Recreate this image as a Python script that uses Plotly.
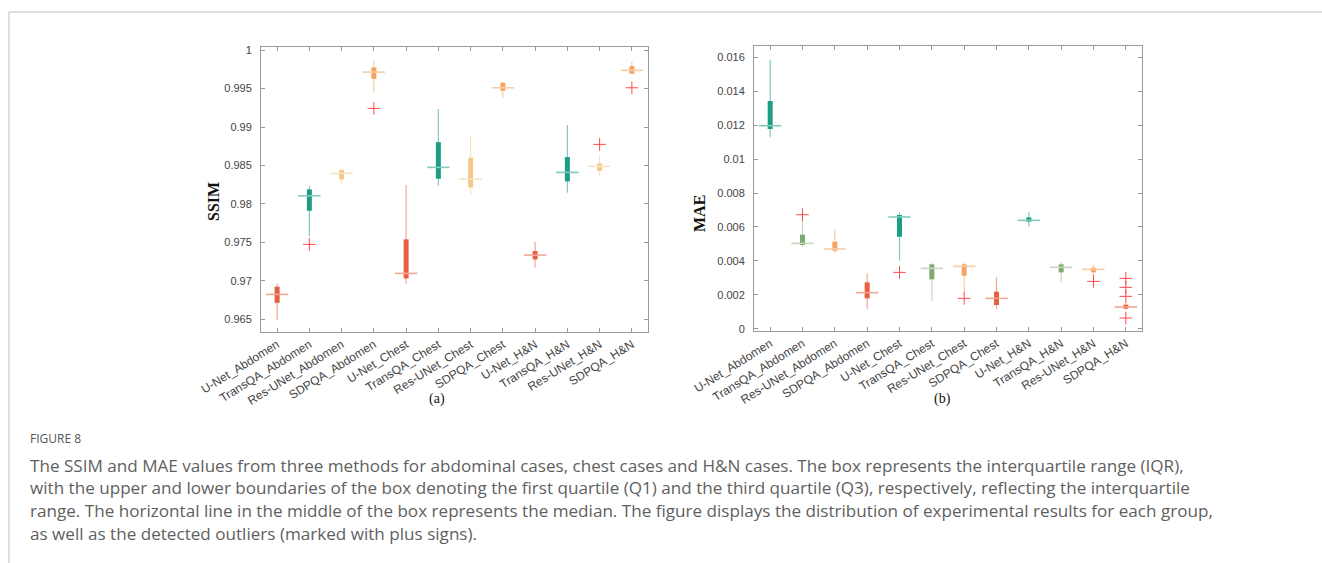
import plotly.graph_objects as go

categories = ["U-Net_Abdomen", "TransQA_Abdomen", "Res-UNet_Abdomen", "SDPQA_Abdomen",
              "U-Net_Chest", "TransQA_Chest", "Res-UNet_Chest", "SDPQA_Chest",
              "U-Net_H&N", "TransQA_H&N", "Res-UNet_H&N", "SDPQA_H&N"]

# SSIM (panel a)
ssim_lo  = [0.9649, 0.97582, 0.98258, 0.9945, 0.96967, 0.98236, 0.98124, 0.99385, 0.97175, 0.98145, 0.98353, 0.99692]
ssim_q1  = [0.96715, 0.97911, 0.98319, 0.99627, 0.97032, 0.98327, 0.98215, 0.99471, 0.97279, 0.98293, 0.98431, 0.99692]
ssim_med = [0.96824, 0.98106, 0.98397, 0.99714, 0.97097, 0.98475, 0.98323, 0.9951, 0.97335, 0.9841, 0.98488, 0.99736]
ssim_q3  = [0.96924, 0.98189, 0.9844, 0.99775, 0.97539, 0.98804, 0.9860, 0.99575, 0.97387, 0.98609, 0.98527, 0.99792]
ssim_hi  = [0.96967, 0.98236, 0.98453, 0.99861, 0.98245, 0.99233, 0.98882, 0.99584, 0.97508, 0.99025, 0.98635, 0.99844]
ssim_out = [[], [0.97474], [], [0.99242], [], [], [], [], [], [], [0.98774], [0.9951]]
ssim_style = ["red", "teal", "sand", "orange"] * 3

# MAE (panel b)
mae_lo  = [0.011283, 0.004835, 0.0045, 0.001179, 0.00401, 0.001631, 0.002084, 0.00114, 0.006015, 0.002713, 0.003066, 0.00114]
mae_q1  = [0.011774, 0.004934, 0.0046, 0.001789, 0.005425, 0.002909, 0.003125, 0.001396, 0.00631, 0.003322, 0.003322, 0.001179]
mae_med = [0.01197, 0.005032, 0.0047, 0.002123, 0.006585, 0.003558, 0.003676, 0.001789, 0.006388, 0.003617, 0.003499, 0.001278]
mae_q3  = [0.013425, 0.005543, 0.00513, 0.002732, 0.006703, 0.003794, 0.003794, 0.002182, 0.006565, 0.003794, 0.003597, 0.001415]
mae_hi  = [0.015843, 0.0065, 0.005877, 0.003263, 0.00686, 0.003853, 0.003892, 0.003027, 0.00686, 0.003912, 0.003754, 0.00155]
mae_out = [[], [0.006722], [], [], [0.003322], [], [0.001789], [], [], [], [0.002791],
           [0.002968, 0.002437, 0.001907, 0.000629]]
mae_style = ["teal", "green", "orange", "red"] * 3

palette = {
    "red":    ("#E6603F", "#F2A796"),
    "teal":   ("#1E9C86", "#7FCCBC"),
    "sand":   ("#F2C98A", "#F8E2BF"),
    "orange": ("#F4A460", "#F8CDA5"),
    "green":  ("#7EAA6F", "#C3D9BA"),
}

fig = go.Figure()


def add_panel(xa, ya, lo, q1, med, q3, hi, outs, styles):
    for i, cat in enumerate(categories):
        dark, light = palette[styles[i]]
        fig.add_trace(go.Scatter(x=[cat, cat], y=[lo[i], hi[i]], mode="lines",
                                 line=dict(color=light, width=1.2),
                                 xaxis=xa, yaxis=ya, showlegend=False, hoverinfo="skip"))
        fig.add_trace(go.Scatter(x=[cat, cat], y=[q1[i], q3[i]], mode="lines",
                                 line=dict(color=dark, width=5),
                                 xaxis=xa, yaxis=ya, showlegend=False, hoverinfo="skip"))
        fig.add_trace(go.Scatter(x=[cat], y=[med[i]], mode="markers",
                                 marker=dict(symbol="line-ew", size=16,
                                             line=dict(color=light, width=1.6)),
                                 xaxis=xa, yaxis=ya, showlegend=False, hoverinfo="skip"))
        if outs[i]:
            fig.add_trace(go.Scatter(x=[cat] * len(outs[i]), y=outs[i], mode="markers",
                                     marker=dict(symbol="cross-thin", size=9,
                                                 line=dict(color="#FF4A4A", width=1)),
                                     xaxis=xa, yaxis=ya, showlegend=False, hoverinfo="skip"))


add_panel("x", "y", ssim_lo, ssim_q1, ssim_med, ssim_q3, ssim_hi, ssim_out, ssim_style)
add_panel("x2", "y2", mae_lo, mae_q1, mae_med, mae_q3, mae_hi, mae_out, mae_style)

W, H = 1322, 563
tickfont = dict(family="Liberation Sans, Arial, sans-serif", size=11, color="#444444")
axis_common = dict(showline=True, linecolor="#9a9a9a", linewidth=1, mirror="ticks",
                   ticks="inside", ticklen=4, tickcolor="#9a9a9a", showgrid=False,
                   zeroline=False, tickfont=tickfont, automargin=False)

xa = dict(axis_common, type="category", categoryorder="array", categoryarray=categories,
          range=[-0.5, 11.5], tickangle=-32, tickfont=dict(tickfont, size=12))

fig.update_layout(
    width=W, height=H, margin=dict(l=0, r=0, t=0, b=0),
    paper_bgcolor="white", plot_bgcolor="white",
    xaxis=dict(xa, domain=[261 / W, 648 / W], anchor="y"),
    yaxis=dict(axis_common, domain=[(H - 332) / H, (H - 47) / H], anchor="x",
               range=[0.96335, 1.0004], dtick=0.005, tick0=0.965, ticklabelstandoff=6),
    xaxis2=dict(xa, domain=[754 / W, 1142 / W], anchor="y2"),
    yaxis2=dict(axis_common, domain=[(H - 331) / H, (H - 46) / H], anchor="x2",
                range=[-0.000136, 0.01667], dtick=0.002, tick0=0, ticklabelstandoff=6),
)

ann = []
ann.append(dict(text="<b>SSIM</b>", x=213 / W, y=(H - 202) / H, textangle=-90,
                font=dict(family="Liberation Serif, Times New Roman, serif", size=16, color="#111")))
ann.append(dict(text="<b>MAE</b>", x=699 / W, y=(H - 213) / H, textangle=-90,
                font=dict(family="Liberation Serif, Times New Roman, serif", size=16, color="#111")))
ann.append(dict(text="(a)", x=437 / W, y=(H - 399) / H,
                font=dict(family="Liberation Serif, Times New Roman, serif", size=14, color="#111")))
ann.append(dict(text="(b)", x=942 / W, y=(H - 399) / H,
                font=dict(family="Liberation Serif, Times New Roman, serif", size=14, color="#111")))
ann.append(dict(text="FIGURE 8", x=28 / W, y=(H - 438) / H, xanchor="left",
                font=dict(family="Open Sans, Lato, sans-serif", size=12, color="#555555")))
caption_lines = [
    "The SSIM and MAE values from three methods for abdominal cases, chest cases and H&N cases. The box represents the interquartile range (IQR),",
    "with the upper and lower boundaries of the box denoting the first quartile (Q1) and the third quartile (Q3), respectively, reflecting the interquartile",
    "range. The horizontal line in the middle of the box represents the median. The figure displays the distribution of experimental results for each group,",
    "as well as the detected outliers (marked with plus signs).",
]
for k, line in enumerate(caption_lines):
    ann.append(dict(text=line.replace("&", "&amp;"), x=28 / W, y=(H - (465 + 22.7 * k)) / H, xanchor="left",
                    font=dict(family="Open Sans, Lato, sans-serif", size=17.1, color="#5f5f5f")))
for a in ann:
    a.update(xref="paper", yref="paper", showarrow=False, yanchor=a.get("yanchor", "middle"))
    a.setdefault("xanchor", "center")
fig.update_layout(annotations=ann)

fig.update_layout(shapes=[
    dict(type="line", xref="paper", yref="paper", x0=9 / W, x1=1, y0=(H - 12) / H, y1=(H - 12) / H,
         line=dict(color="#d4d4d4", width=1.5)),
    dict(type="line", xref="paper", yref="paper", x0=9 / W, x1=9 / W, y0=0, y1=(H - 12) / H,
         line=dict(color="#d4d4d4", width=1.5)),
])

fig.write_html("out.html")
